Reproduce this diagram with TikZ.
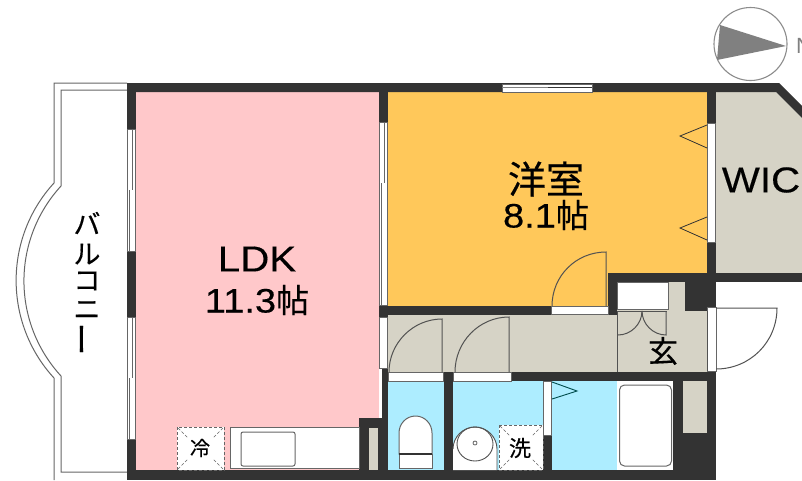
\documentclass[tikz,border=0pt]{standalone}
\usepackage{fontspec}
\setmainfont{Liberation Sans}
\newfontfamily\lat[FakeStretch=1.12,FakeBold=0.25]{Liberation Sans}
\newfontfamily\kj[FakeBold=0.4]{Noto Sans CJK JP}
\newcommand{\fsz}[1]{\fontsize{#1}{#1}\selectfont}
\definecolor{wall}{HTML}{333333}
\definecolor{pinkroom}{HTML}{FFC8CA}
\definecolor{orangeroom}{HTML}{FFC85A}
\definecolor{beigeroom}{HTML}{D6D3C6}
\definecolor{blueroom}{HTML}{ADEDFF}
\definecolor{edge}{HTML}{666666}
\tikzset{
  wallfill/.style={fill=wall,draw=none},
  pinkfill/.style={fill=pinkroom,draw=none},
  orangefill/.style={fill=orangeroom,draw=none},
  beigefill/.style={fill=beigeroom,draw=none},
  bluefill/.style={fill=blueroom,draw=none},
  opening/.style={fill=white,draw=edge,line width=0.8pt},
  fixture/.style={fill=white,draw=edge,line width=1pt},
  doorline/.style={draw=wall!85,line width=1pt},
  flagline/.style={draw=wall,line width=0.8pt},
  tealline/.style={draw=teal!60!black,line width=0.9pt},
  balc/.style={draw=edge,line width=1pt},
  dashbox/.style={fill=white,draw=edge,line width=1pt,dash pattern=on 3pt off 2pt},
  dashdiag/.style={draw=edge,line width=0.6pt,dash pattern=on 3pt off 2pt},
  roomlabel/.style={inner sep=0pt,text=black,align=center},
  cjklabel/.style={inner sep=0pt,text=black,font=\kj},
}
\begin{document}
\begin{tikzpicture}[x=1pt,y=-1pt]
\useasboundingbox (0,0) rectangle (802,480);
\clip (0,0) rectangle (802,480);
\fill[white] (0,0) rectangle (802,480);
% balcony
\draw[balc] (127,83) -- (54,83) -- (54,183) .. controls (3.5,238) and (3.5,323) .. (54,378) -- (54,480);
\draw[balc] (127,90) -- (61,90) -- (61,186) .. controls (11.6,240) and (11.6,322) .. (61,376) -- (61,472) -- (127,472);
% rooms
\fill[pinkfill] (136,92) rectangle (379,470);
\fill[orangefill] (388,92) -- (708,92) -- (708,273) -- (608,273) -- (608,306) -- (388,306) -- cycle;
\fill[beigefill] (716,92) -- (776,92) -- (802,118) -- (802,273) -- (716,273) -- cycle;
\fill[beigefill] (388,315) rectangle (617,372);
\fill[beigefill] (617,282) -- (685,282) -- (685,311) -- (707,311) -- (707,372) -- (617,372) -- cycle;
\fill[bluefill] (388,381) rectangle (444,470);
\fill[bluefill] (453,381) rectangle (617,470);
% walls
\fill[wallfill] (127,83) -- (779,83) -- (802,106) -- (802,118) -- (776,92) -- (127,92) -- cycle;
\fill[wallfill] (127,83) rectangle (136,480);
\fill[wallfill] (127,470) rectangle (716,480);
\fill[wallfill] (379,92) rectangle (388,122);
\fill[wallfill] (379,305) rectangle (388,317);
\fill[wallfill] (388,306) rectangle (551,315);
\fill[wallfill] (382,368) rectangle (388,470);
\fill[white] (379,368) rectangle (382,418);
\fill[wallfill] (359,418) rectangle (388,470);
\fill[beigefill] (369,428) rectangle (378,470);
\fill[wallfill] (707,92) rectangle (716,311);
\fill[wallfill] (608,273) rectangle (802,282);
\fill[wallfill] (608,273) rectangle (617,315);
\fill[wallfill] (685,282) rectangle (716,311);
\fill[wallfill] (382,372) rectangle (716,381);
\fill[wallfill] (707,371) rectangle (716,480);
\fill[wallfill] (673,381) rectangle (716,470);
\fill[beigefill] (683,381) rectangle (707,433);
\fill[wallfill] (444,381) rectangle (453,470);
\fill[wallfill] (543,435) rectangle (552,470);
% balcony side windows
\draw[opening] (127.5,129) rectangle (135,251);
\draw[opening] (127.5,317) rectangle (135,439);
\draw[edge,line width=1pt] (132,129) -- (132,190);
\draw[edge,line width=1pt] (129.5,190) -- (129.5,251);
\draw[edge,line width=1pt] (132,317) -- (132,378);
\draw[edge,line width=1pt] (129.5,378) -- (129.5,439);
% LDK / bedroom windows
\draw[opening] (379.5,122) rectangle (387,305);
\draw[edge,line width=1pt] (384,122) -- (384,183);
\draw[edge,line width=1pt] (381.5,183) -- (381.5,305);
\draw[opening] (379.5,317) rectangle (387,368);
% top window
\draw[opening] (502,84) rectangle (592,92);
\draw[wall,line width=0.9pt] (548,87.5) -- (592,87.5);
\draw[gray,line width=0.8pt] (502,87.5) -- (548,87.5);
% WIC door
\draw[opening] (707.5,123) rectangle (715.5,242);
\draw[flagline] (707,125) -- (680,136) -- (707,148);
\draw[flagline] (707,217) -- (680,228) -- (707,240);
% bedroom door
\draw[opening] (551,306) rectangle (608,314.5);
\draw[doorline] (606,306) -- (606,252) .. controls (576,252) and (552,276) .. (552,306);
% corridor doors
\draw[opening] (388,372) rectangle (443,381);
\draw[opening] (453,372) rectangle (511,381);
\draw[doorline] (442,372) -- (442,319) .. controls (413,319) and (389,343) .. (389,372);
\draw[doorline] (509,372) -- (509,317) .. controls (479,317) and (455,342) .. (455,372);
% closet
\draw[fixture,fill=white] (617,282.5) rectangle (668,309);
\draw[doorline] (617.5,311) -- (617.5,372);
\draw[doorline] (617.5,311) -- (667,311);
\draw[doorline] (618,335) .. controls (631,335) and (642,324) .. (642,311);
\draw[doorline] (642,311) .. controls (642,324) and (653,335) .. (666,335) -- (666,311);
% entrance door
\draw[opening] (707.5,307) rectangle (716,371);
\draw[doorline] (716,308) -- (777,308) .. controls (777,342) and (750,369) .. (716,369);
\draw[doorline] (707,311) -- (707,371);
% kitchen
\draw[fixture] (230,427.5) rectangle (359,468.5);
\draw[edge,line width=1pt,rounded corners=2pt] (241,432) rectangle (295,466);
\draw[dashbox] (177,427) rectangle (224,470);
\draw[dashdiag] (178,428) -- (188,438) (223,428) -- (213,438) (178,469) -- (188,459) (223,469) -- (213,459);
% toilet
\fill[white,draw=edge,line width=1pt] (399,454) -- (399,433) .. controls (399,424) and (406,416) .. (415.5,416) .. controls (425,416) and (432,424) .. (432,433) -- (432,454) -- cycle;
\fill[white,draw=edge,line width=1pt] (399,454) rectangle (432,468);
\draw[wall,line width=1.2pt] (399,454) -- (432,454);
% sink
\fill[white,draw=none] (453,470) -- (453,449) .. controls (453,437) and (463,427) .. (475,427) .. controls (487,427) and (497,437) .. (497,449) -- (497,470) -- cycle;
\draw[wall!85,line width=0.9pt] (453,449) .. controls (453,437) and (463,427) .. (475,427) .. controls (487,427) and (497,437) .. (497,449) -- (497,470);
\draw[wall!85,line width=0.9pt] (475,444) ellipse [x radius=18,y radius=17];
\draw[edge,line width=0.8pt] (475,443) circle [radius=2];
% washer
\draw[dashbox] (499,425) rectangle (543,470);
\draw[dashdiag] (500,426) -- (510,436) (542,426) -- (532,436) (500,469) -- (510,459) (542,469) -- (532,459);
% bath
\fill[white] (617,381) rectangle (673,470);
\draw[edge,line width=1pt,rounded corners=5pt] (619.5,385) rectangle (671.5,466);
% bathroom door
\draw[opening] (543,381) rectangle (551.5,435);
\draw[tealline] (552,382) -- (577,391) -- (552,399);
% compass
\draw[gray!90,line width=1.1pt] (750.5,44) circle [radius=36.5];
\fill[gray] (720,25) -- (786,46) -- (717,60) -- cycle;
\node[roomlabel,anchor=west,text=gray] (north) at (796,46) {\fsz{22}N};
% labels
\node[roomlabel,font=\lat] (ldk) at (257,259) {\fsz{36}LDK};
\node[roomlabel,font=\lat] (ldksize) at (257,300) {\fsz{34}11.3{\kj\fsz{33}帖}};
\node[cjklabel] (yoshitsu) at (546,179) {\fsz{38}洋室};
\node[roomlabel,font=\lat] (yosize) at (546,215) {\fsz{34}8.1{\kj\fsz{33}帖}};
\node[roomlabel,font=\lat] (wic) at (761,180) {\fsz{36}WIC};
\node[cjklabel] (gen) at (663,351) {\fsz{30}玄};
\node[cjklabel] (rei) at (200,448) {\fsz{20}冷};
\node[cjklabel] (sen) at (520,448) {\fsz{22}洗};
\node[cjklabel] (b1) at (87,223) {\fsz{27}バ};
\node[cjklabel] (b2) at (87,254) {\fsz{27}ル};
\node[cjklabel] (b3) at (87,281) {\fsz{27}コ};
\node[cjklabel] (b4) at (87,310) {\fsz{27}ニ};
\node[cjklabel,rotate=90] (b5) at (87,339) {\fsz{33}ー};
\end{tikzpicture}
\end{document}
